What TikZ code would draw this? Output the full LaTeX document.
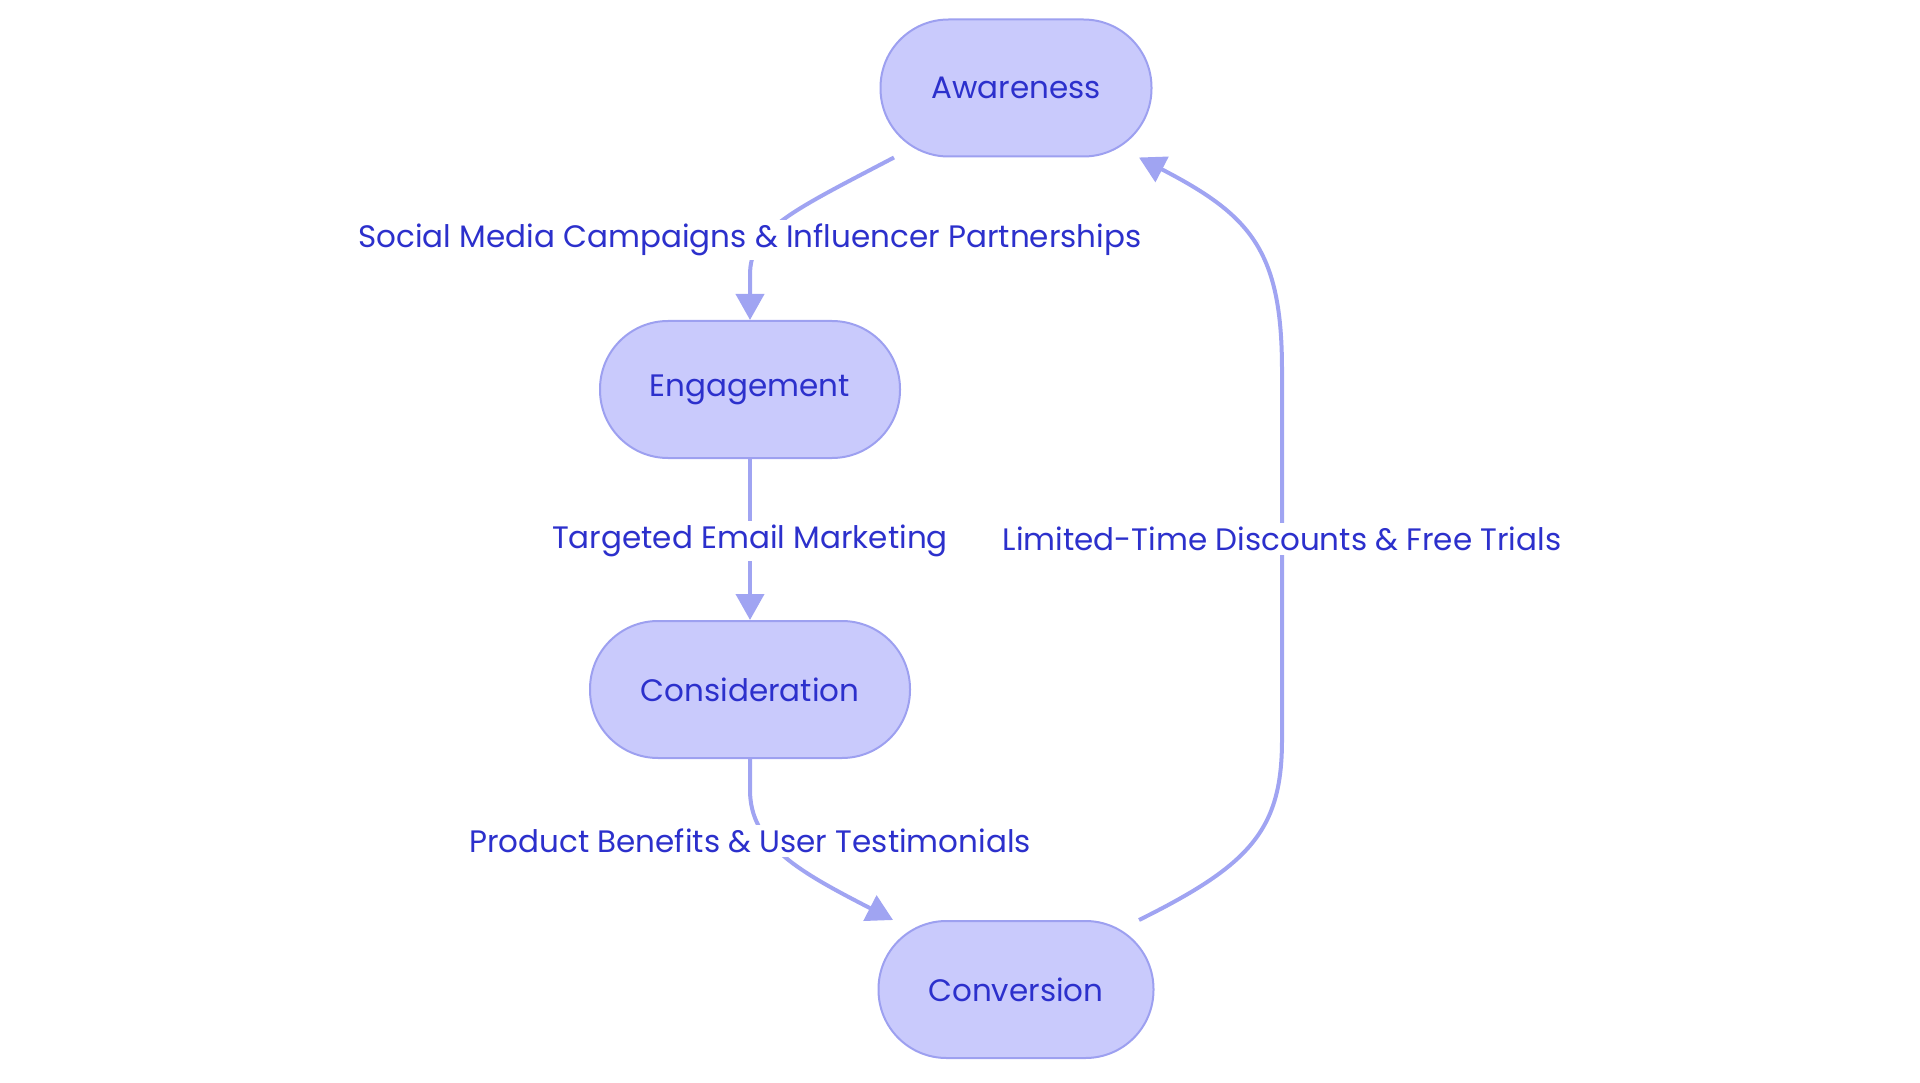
\documentclass[tikz,border=0pt]{standalone}
\usepackage{fontspec}
\setmainfont{Poppins}
\usetikzlibrary{arrows.meta,calc}
\definecolor{nodefill}{HTML}{C9CAFC}
\definecolor{nodedraw}{HTML}{9DA0F0}
\definecolor{txt}{HTML}{2C30CC}
\definecolor{edge}{HTML}{A0A4F2}
\tikzset{
  stage/.style={draw=nodedraw, line width=2pt, fill=nodefill, rounded corners=68pt,
    minimum height=137pt, text=txt, font=\fontsize{31}{35}\selectfont, inner sep=0pt},
  lbl/.style={fill=white, text=txt, font=\fontsize{31}{35}\selectfont, inner sep=4pt},
  flow/.style={draw=edge, line width=4pt, -{Triangle[length=26pt,width=28pt]}},
}
\newcommand{\lowtext}[1]{\raisebox{-4pt}{#1}}
\begin{document}
\begin{tikzpicture}[x=1pt,y=-1pt]
\useasboundingbox (0,0) rectangle (1920,1083);
\node[stage, minimum width=271pt] (aw) at (1016,88) {\lowtext{Awareness}};
\node[stage, minimum width=300pt] (en) at (750,389.5) {\lowtext{Engagement}};
\node[stage, minimum width=320pt] (co) at (750,689.5) {\lowtext{Consideration}};
\node[stage, minimum width=275pt] (cv) at (1016,989.5) {\lowtext{Conversion}};

\draw[flow] ([xshift=-122pt]aw.south) .. controls (790,212) and (750,230) .. (750,275) -- (en.north);
\draw[flow] (en.south) -- (co.north);
\draw[flow] (co.south) -- (750,790) .. controls (750,845) and (800,872) .. ([xshift=-123pt]cv.north);
\draw[flow] ([xshift=123pt]cv.north) .. controls (1250,865) and (1282,830) .. (1282,740) -- (1282,370) .. controls (1282,250) and (1250,215) .. ([xshift=123pt]aw.south);

\node[lbl] (l1) at (750,240) {Social Media Campaigns \& Influencer Partnerships};
\node[lbl] (l2) at (750,541) {Targeted Email Marketing};
\node[lbl] (l3) at (750,841) {Product Benefits \& User Testimonials};
\node[lbl] (l4) at (1282,539) {Limited-Time Discounts \& Free Trials};
\end{tikzpicture}
\end{document}
